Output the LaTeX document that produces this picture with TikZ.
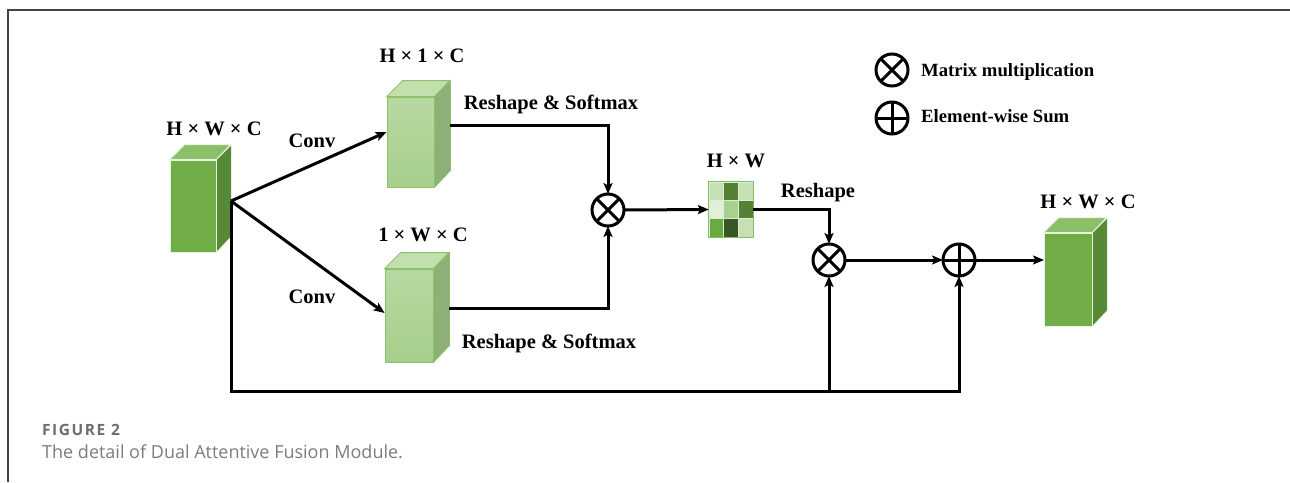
\documentclass[tikz,border=0pt]{standalone}
\usepackage{fontspec}
\setmainfont{Liberation Serif}
\newfontfamily\capfont{Open Sans}
\newfontfamily\capfontsp[LetterSpace=10]{Open Sans}
\usetikzlibrary{arrows.meta,calc}
\definecolor{dkfront}{HTML}{70AD47}
\definecolor{dktop}{HTML}{8CC068}
\definecolor{dkside}{HTML}{578A37}
\definecolor{ltfront}{HTML}{A7CF8C}
\definecolor{lttop}{HTML}{C2DFAE}
\definecolor{ltside}{HTML}{8CB077}
\definecolor{ltline}{HTML}{8CC26C}
\definecolor{gA}{HTML}{C5E0B4}
\definecolor{gB}{HTML}{548235}
\definecolor{gC}{HTML}{E2F0D9}
\definecolor{gD}{HTML}{A9D18E}
\definecolor{gE}{HTML}{6AAA42}
\definecolor{gF}{HTML}{385723}
\definecolor{framecol}{HTML}{444444}
\definecolor{capA}{HTML}{6E6E6E}
\definecolor{capB}{HTML}{7C7C7C}
\tikzset{
  conn/.style={line width=3pt},
  arr/.style={conn,-{Stealth[length=11pt,width=9pt,inset=2.5pt]}},
  dkface/.style={fill=dkfront,draw=white!85!dkfront,line width=0.8pt},
  ltface/.style={fill=ltfront,draw=ltline,line width=0.8pt},
  lbl/.style={font=\bfseries\fontsize{20.5}{24}\selectfont,anchor=base,inner sep=0pt},
  leg/.style={font=\bfseries\fontsize{18.7}{22}\selectfont,anchor=base west,inner sep=0pt},
  opcirc/.style={circle,draw,line width=3pt,minimum size=32pt,inner sep=0pt,outer sep=0pt},
  otimesop/.style={opcirc,path picture={
     \draw[line width=3pt] (path picture bounding box.center) ++(-20,-20) -- ++(40,40);
     \draw[line width=3pt] (path picture bounding box.center) ++(-20,20) -- ++(40,-40);}},
  oplusop/.style={opcirc,path picture={
     \draw[line width=3pt] (path picture bounding box.center) ++(-20,0) -- ++(40,0);
     \draw[line width=3pt] (path picture bounding box.center) ++(0,-20) -- ++(0,40);}},
}
\begin{document}
\begin{tikzpicture}[x=1pt,y=-1pt]
\useasboundingbox (0,0) rectangle (1290,482);
% frame
\draw[framecol,line width=1.8pt] (8,482) -- (8,10) -- (1290,10);

% left cube
\node[dkface,minimum width=46,minimum height=92,inner sep=0pt] (lc) at (193,206) {};
\path[fill=dktop,draw=white!85!dkfront,line width=0.8pt] (lc.north west) -- ++(15,-15) -- ++(46,0) -- (lc.north east) -- cycle;
\path[fill=dkside,draw=white!85!dkfront,line width=0.8pt] (lc.north east) -- ++(15,-15) -- ++(0,92) -- (lc.south east) -- cycle;
\coordinate (src) at (231,201);

% top cube
\node[ltface,minimum width=47,minimum height=90,inner sep=0pt,top color=lttop!60!ltfront,bottom color=ltfront] (tc) at (410.5,142) {};
\path[fill=lttop,draw=ltline,line width=0.8pt] (tc.north west) -- ++(16,-16) -- ++(47,0) -- (tc.north east) -- cycle;
\path[fill=ltside,draw=ltline,line width=0.8pt] (tc.north east) -- ++(16,-16) -- ++(0,90) -- (tc.south east) -- cycle;
\coordinate (tcout) at (450,125);

% bottom cube
\node[ltface,minimum width=48,minimum height=93,inner sep=0pt,top color=lttop!60!ltfront,bottom color=ltfront] (bc) at (409,315.5) {};
\path[fill=lttop,draw=ltline,line width=0.8pt] (bc.north west) -- ++(16,-16) -- ++(48,0) -- (bc.north east) -- cycle;
\path[fill=ltside,draw=ltline,line width=0.8pt] (bc.north east) -- ++(16,-16) -- ++(0,93) -- (bc.south east) -- cycle;
\coordinate (bcout) at (449,308);

% right cube
\node[dkface,minimum width=48,minimum height=93,inner sep=0pt] (rc) at (1068,279.5) {};
\path[fill=dktop,draw=white!85!dkfront,line width=0.8pt] (rc.north west) -- ++(15,-15) -- ++(48,0) -- (rc.north east) -- cycle;
\path[fill=dkside,draw=white!85!dkfront,line width=0.8pt] (rc.north east) -- ++(15,-15) -- ++(0,93) -- (rc.south east) -- cycle;
\coordinate (rcin) at (1044,260);

% grid
\node[minimum width=44,minimum height=55,inner sep=0pt] (grid) at (731,209.5) {};
\foreach \c [count=\i from 0] in {gA,gB,gA,gC,gD,gB,gE,gF,gA}{
  \pgfmathtruncatemacro\col{mod(\i,3)}
  \pgfmathtruncatemacro\row{int(\i/3)}
  \fill[\c,draw=white!60!gD,line width=0.6pt] ($(grid.north west)+(\col*44/3,\row*55/3)$) rectangle ++(44/3,55/3);
}
\draw[gE!80!white,line width=0.8pt] (grid.north west) rectangle (grid.south east);

% operators
\node[otimesop] (m1) at (608,210) {};
\node[otimesop] (m2) at (829,260) {};
\node[oplusop] (sum) at (959,260) {};

% connectors
\draw[arr] (src) -- ([yshift=10pt]tc.west);
\draw[arr] (src) -- ([yshift=2.5pt]bc.west);
\coordinate (bl) at (231,391);
\draw[arr] (src) -- (bl) -| (sum.south);
\draw[arr] (m2.south |- bl) -- (m2.south);
\draw[arr] (tcout) -| (m1.north);
\draw[arr] (bcout) -| (m1.south);
\draw[arr] (m1.east) -- (grid.west);
\draw[arr] (grid.east) -| (m2.north);
\draw[arr] (m2.east) -- (sum.west);
\draw[arr] (sum.east) -- (rcin);

% labels
\node[lbl] (l1) at (214,135) {H × W × C};
\node[lbl] (l2) at (312,147) {Conv};
\node[lbl] (l3) at (422,62) {H × 1 × C};
\node[lbl] (l4) at (551,109) {Reshape \& Softmax};
\node[lbl] (l5) at (423,241) {1 × W × C};
\node[lbl] (l6) at (312,303) {Conv};
\node[lbl] (l7) at (549,348) {Reshape \& Softmax};
\node[lbl] (l8) at (736,167) {H × W};
\node[lbl] (l9) at (818,197) {Reshape};
\node[lbl] (l10) at (1088,208) {H × W × C};

% legend
\node[otimesop] (lg1) at (892,70) {};
\node[oplusop] (lg2) at (892,118) {};
\node[leg] (t1) at (921,76) {Matrix multiplication};
\node[leg] (t2) at (921,122.5) {Element-wise Sum};

% caption
\node[anchor=base west,inner sep=0pt,font=\capfontsp\bfseries\fontsize{15.5}{18}\selectfont,text=capA] (fig) at (42,435) {FIGURE 2};
\node[anchor=base west,inner sep=0pt,font=\capfont\fontsize{18}{21}\selectfont,text=capB] (cap) at (42,458) {The detail of Dual Attentive Fusion Module.};
\end{tikzpicture}
\end{document}
